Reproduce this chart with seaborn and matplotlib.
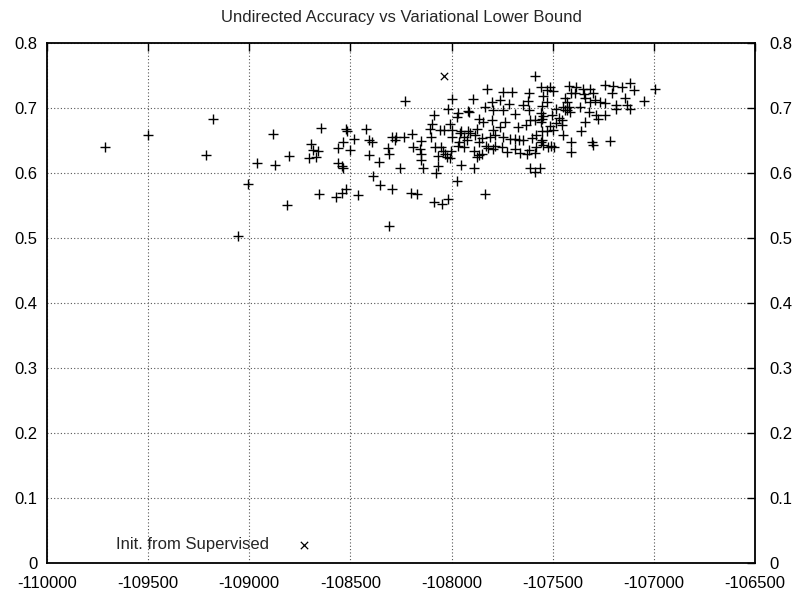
import matplotlib
matplotlib.use("Agg")
import matplotlib.pyplot as plt
import matplotlib.transforms as mtransforms
from matplotlib.ticker import FuncFormatter
import seaborn as sns
import pandas as pd

# Variational lower bound (x) and undirected accuracy (y) for each run
lower_bound = [
    -109713, -109500, -109179, -109214, -108882, -108962, -108873, -108803, -109006, -108813, -109055,
    -108228, -108647, -108521, -108518, -108424, -108480, -108535, -108560, -108500, -108695,
    -108686, -108658, -108704, -108670, -108410, -108392, -108406, -108357, -108312, -108310,
    -108296, -108274, -108278, -108233, -108194, -108189, -108563, -108543, -108535, -108254,
    -108386, -108353, -108296, -108655, -108571, -108540, -108521, -108461, -108201, -108172,
    -108307,
    -107823, -107996, -107892, -107747, -107702, -107798, -107763, -107714, -107796, -107744,
    -108016, -107969, -107920, -107912, -108086, -107837, -107686, -107974, -107862, -107846,
    -107801, -107735, -108007, -108098, -108106, -108057, -108035, -107999, -107954, -107920,
    -107875, -107796, -107763, -107674, -108151, -108101, -107996, -107958, -107937, -107908,
    -107884, -107851, -107809, -107785, -107747, -107710, -107669, -107961, -107925, -107862,
    -107829, -107785, -107752, -107686, -108158, -108151, -108082, -108052, -108040, -108032,
    -108002, -107966, -107937, -107887, -107851, -107818, -107793, -107727, -108066, -108025,
    -108007, -107875, -107862, -108151, -108139, -108066, -108078, -107953, -107888, -107974,
    -108086, -108048, -108016, -107834,
    -107587, -107557, -107529, -107513, -107546, -107499, -107615, -107623, -107648, -107529,
    -107554, -107619, -107485, -107559, -107505, -107469, -107452, -107420, -107387, -107409,
    -107389, -107348, -107315, -107302, -107344, -107339, -107315, -107290, -107439, -107430,
    -107447, -107430, -107414, -107438, -107418, -107364, -107323, -107265, -107240, -107240,
    -107202, -107157, -107120, -107097, -107208, -107186, -107186, -107142, -107133, -107117,
    -107048, -107285, -107278, -107240, -107339, -107361, -107307, -107299, -107219, -107409,
    -107409, -107450, -107513, -107499, -107529, -107554, -107485, -107633, -107611, -107559,
    -107589, -107554, -107546, -107453, -107686, -107648, -107604, -107554, -107584, -107546,
    -107509, -107496, -107521, -107619, -107584, -107559, -107661, -107628, -107587, -107611,
    -107562, -107589, -106994,
]
accuracy = [
    0.640, 0.658, 0.683, 0.628, 0.660, 0.615, 0.612, 0.626, 0.583, 0.551, 0.503,
    0.711, 0.669, 0.668, 0.664, 0.668, 0.653, 0.648, 0.638, 0.635, 0.644,
    0.636, 0.634, 0.623, 0.624, 0.651, 0.647, 0.627, 0.617, 0.638, 0.629,
    0.656, 0.656, 0.651, 0.656, 0.660, 0.640, 0.615, 0.611, 0.608, 0.607,
    0.596, 0.582, 0.576, 0.568, 0.563, 0.570, 0.575, 0.566, 0.570, 0.568,
    0.519,
    0.729, 0.714, 0.714, 0.724, 0.724, 0.710, 0.713, 0.706, 0.697, 0.697,
    0.698, 0.693, 0.696, 0.694, 0.689, 0.702, 0.691, 0.686, 0.683, 0.679,
    0.682, 0.679, 0.676, 0.675, 0.668, 0.666, 0.666, 0.666, 0.665, 0.665,
    0.667, 0.666, 0.671, 0.671, 0.650, 0.655, 0.655, 0.661, 0.655, 0.661,
    0.658, 0.654, 0.655, 0.658, 0.655, 0.652, 0.651, 0.647, 0.651, 0.648,
    0.642, 0.642, 0.640, 0.637, 0.637, 0.629, 0.640, 0.640, 0.634, 0.629,
    0.634, 0.642, 0.640, 0.634, 0.630, 0.638, 0.637, 0.633, 0.626, 0.625,
    0.623, 0.624, 0.628, 0.620, 0.607, 0.611, 0.600, 0.612, 0.607, 0.588,
    0.555, 0.553, 0.560, 0.568,
    0.749, 0.732, 0.728, 0.732, 0.718, 0.726, 0.723, 0.711, 0.705, 0.709,
    0.703, 0.697, 0.698, 0.692, 0.689, 0.684, 0.682, 0.734, 0.732, 0.723,
    0.723, 0.730, 0.730, 0.723, 0.722, 0.715, 0.710, 0.713, 0.715, 0.710,
    0.702, 0.697, 0.694, 0.697, 0.702, 0.702, 0.694, 0.710, 0.707, 0.735,
    0.734, 0.732, 0.738, 0.728, 0.723, 0.705, 0.698, 0.715, 0.705, 0.698,
    0.711, 0.689, 0.683, 0.689, 0.679, 0.664, 0.647, 0.643, 0.649, 0.647,
    0.633, 0.658, 0.672, 0.666, 0.665, 0.664, 0.677, 0.674, 0.682, 0.679,
    0.682, 0.683, 0.687, 0.674, 0.652, 0.651, 0.654, 0.651, 0.658, 0.643,
    0.642, 0.640, 0.640, 0.635, 0.640, 0.647, 0.631, 0.630, 0.631, 0.607,
    0.607, 0.602, 0.730,
]

# Run initialised from the supervised model
supervised_bound = [-108035]
supervised_accuracy = [0.750]
supervised_label = "Init. from Supervised"

title = "Undirected Accuracy vs Variational Lower Bound"
x_ticks = [-110000, -109500, -109000, -108500, -108000, -107500, -107000, -106500]
y_ticks = [0, 0.1, 0.2, 0.3, 0.4, 0.5, 0.6, 0.7, 0.8]

sns.set_style("white")
plt.rcParams["font.family"] = ["Liberation Sans", "DejaVu Sans"]
plt.rcParams["axes.unicode_minus"] = False

fig = plt.figure(figsize=(7.97, 5.90), dpi=100)
ax = fig.add_axes([47 / 797, 27 / 590, 708 / 797, 520 / 590])

runs = pd.DataFrame({"bound": lower_bound, "acc": accuracy})
sup = pd.DataFrame({"bound": supervised_bound, "acc": supervised_accuracy})

sns.scatterplot(data=runs, x="bound", y="acc", marker="+", color="black",
                s=50, linewidth=1.0, ax=ax, legend=False, zorder=3)
sns.scatterplot(data=sup, x="bound", y="acc", marker="x", color="black",
                s=28, linewidth=0.9, ax=ax, label=supervised_label, zorder=3)

ax.set_xlim(x_ticks[0], x_ticks[-1])
ax.set_ylim(y_ticks[0], y_ticks[-1])
ax.set_xticks(x_ticks)
ax.set_yticks(y_ticks)
fmt = FuncFormatter(lambda v, p: "%g" % v)
ax.xaxis.set_major_formatter(fmt)
ax.yaxis.set_major_formatter(fmt)
ax.set_xlabel("")
ax.set_ylabel("")

ax.grid(True, linestyle=(0, (1, 2)), color="#555555", linewidth=0.8)
ax.set_axisbelow(True)
for sp in ax.spines.values():
    sp.set_visible(True)
    sp.set_color("black")
    sp.set_linewidth(1.3)

ax.tick_params(axis="both", which="major", direction="in", length=6, width=1,
               top=True, right=True, labelsize=12, colors="black")
ax.tick_params(axis="x", pad=9)
ax.tick_params(axis="y", pad=7, labelright=True)

ax.set_title(title, fontsize=12, pad=15)

ax.legend(loc="lower left", bbox_to_anchor=(0.078, -0.005), frameon=False,
          markerfirst=False, fontsize=12, handlelength=1.0,
          handletextpad=1.6, borderpad=0.3)

# the right-hand tick labels sit a little further out than the left-hand ones
fig.canvas.draw()
offset = mtransforms.ScaledTranslation(5 / 100, 0, fig.dpi_scale_trans)
for t in ax.yaxis.get_major_ticks():
    t.label2.set_transform(t.label2.get_transform() + offset)

fig.savefig("out.png", dpi=100)
